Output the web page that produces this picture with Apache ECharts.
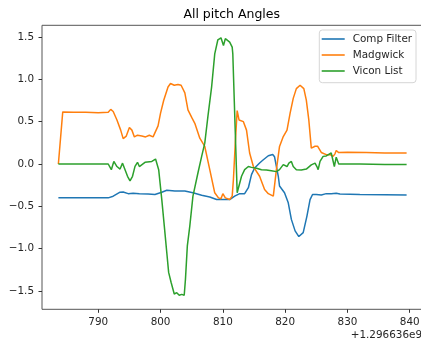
<!DOCTYPE html>
<html>
<head>
<meta charset="utf-8">
<script src="https://cdn.jsdelivr.net/npm/echarts@6/dist/echarts.min.js"></script>
<style>
  html, body { margin: 0; padding: 0; background: #fff; }
  #chart { width: 421px; height: 341px; }
</style>
</head>
<body>
<div id="chart"></div>
<script>
// Time stamps are seconds relative to the offset 1.296636e9
const xTicks = [790, 800, 810, 820, 830, 840];
const yTicks = [-1.5, -1.0, -0.5, 0.0, 0.5, 1.0, 1.5];
const xOffsetLabel = '+1.296636e9';
const seriesNames = ['Comp Filter', 'Madgwick', 'Vicon List'];

const compT = [783.6, 788, 791.6, 792.4, 793.5, 794.0, 794.8, 795.6, 796.6, 798, 799.1, 800.2, 801.0, 802.3, 803.9, 805.2, 806.6, 807.9, 809.0, 810.3, 811.1, 811.9, 812.7, 813.5, 814.1, 814.6, 815.1, 815.9, 816.5, 817.3, 818.0, 818.3, 818.9, 819.1, 819.9, 820.5, 821.0, 821.6, 822.2, 822.9, 823.5, 824.0, 824.4, 825.0, 825.8, 826.6, 827.4, 828.2, 828.8, 832, 836, 839.5];
const compV = [-0.40, -0.40, -0.40, -0.38, -0.333, -0.33, -0.35, -0.345, -0.35, -0.355, -0.36, -0.333, -0.31, -0.32, -0.32, -0.34, -0.37, -0.39, -0.42, -0.42, -0.42, -0.38, -0.35, -0.35, -0.28, -0.126, -0.047, 0.012, 0.05, 0.097, 0.113, 0.085, -0.145, -0.26, -0.34, -0.458, -0.654, -0.79, -0.857, -0.81, -0.615, -0.42, -0.36, -0.36, -0.365, -0.35, -0.35, -0.345, -0.355, -0.36, -0.362, -0.365];

const madT = [783.6, 784.3, 786, 788, 790, 791.6, 792.0, 792.4, 793.0, 793.6, 794.0, 794.5, 795.0, 795.4, 795.8, 796.3, 797.0, 797.6, 798.2, 798.8, 799.1, 799.6, 800.0, 800.5, 801.2, 801.6, 802.2, 802.8, 803.3, 803.6, 803.9, 804.4, 805.0, 805.5, 806.3, 807.1, 807.9, 808.7, 809.3, 809.7, 810.0, 810.4, 811.1, 811.5, 811.7, 812.0, 812.3, 812.6, 813.3, 813.8, 814.3, 814.9, 815.9, 816.7, 817.3, 818.1, 818.3, 818.6, 819.1, 819.7, 820.3, 820.8, 821.3, 821.8, 822.4, 823.0, 823.4, 823.8, 824.2, 824.8, 825.2, 825.8, 826.6, 827.2, 827.7, 828.0, 828.2, 828.6, 830, 833, 836, 839.5];
const madV = [0.0, 0.615, 0.61, 0.61, 0.605, 0.61, 0.645, 0.62, 0.52, 0.40, 0.30, 0.33, 0.43, 0.40, 0.32, 0.34, 0.33, 0.32, 0.34, 0.32, 0.305, 0.45, 0.60, 0.75, 0.91, 0.95, 0.93, 0.94, 0.93, 0.92, 0.84, 0.64, 0.55, 0.48, 0.305, 0.207, -0.067, -0.34, -0.40, -0.41, -0.35, -0.40, -0.42, -0.38, -0.18, 0.25, 0.63, 0.52, 0.50, 0.40, 0.13, -0.03, -0.145, -0.30, -0.35, -0.38, -0.38, -0.067, 0.207, 0.324, 0.40, 0.60, 0.775, 0.89, 0.93, 0.89, 0.755, 0.52, 0.188, 0.21, 0.21, 0.136, 0.11, 0.11, 0.09, 0.12, 0.16, 0.135, 0.14, 0.135, 0.13, 0.13];

const viconT = [783.6, 788, 791.6, 792.1, 792.5, 793.0, 793.5, 793.9, 794.3, 794.7, 795.1, 795.5, 795.9, 796.3, 796.6, 797.5, 798.6, 799.2, 799.7, 800.2, 800.6, 801.0, 801.3, 801.7, 802.2, 802.6, 803.0, 803.4, 803.8, 804.0, 804.3, 804.7, 805.2, 806.0, 806.6, 807.1, 807.6, 808.2, 808.7, 809.2, 809.7, 810.1, 810.4, 811.1, 811.5, 811.6, 812.3, 812.5, 813.0, 813.5, 814.1, 814.6, 815.4, 816.2, 817.0, 817.8, 818.6, 819.1, 819.7, 820.3, 820.6, 821.0, 821.3, 821.8, 822.6, 823.4, 824.2, 824.8, 825.1, 825.3, 825.6, 826.1, 826.6, 827.4, 827.9, 828.2, 828.6, 832, 836, 839.5];
const viconV = [0, 0, 0, -0.067, 0.03, -0.03, -0.06, 0.01, -0.067, -0.145, -0.2, -0.145, -0.028, 0.02, -0.03, 0.02, 0.03, 0.058, -0.067, -0.42, -0.73, -1.045, -1.28, -1.40, -1.535, -1.52, -1.55, -1.54, -1.55, -1.36, -0.967, -0.73, -0.38, -0.106, 0.09, 0.246, 0.56, 0.91, 1.30, 1.467, 1.49, 1.40, 1.48, 1.44, 1.38, 1.30, -0.34, -0.36, -0.145, -0.067, -0.03, -0.04, -0.05, -0.067, -0.07, -0.08, -0.09, -0.067, -0.008, -0.03, 0.01, 0.03, -0.03, -0.067, -0.07, -0.06, -0.01, 0.01, -0.03, -0.067, 0.03, 0.09, 0.095, 0.13, -0.03, 0.08, 0.0, 0.0, -0.005, -0.005];

const colors = ['#1f77b4', '#ff7f0e', '#2ca02c'];
const FONT = 'DejaVu Sans';

function pairs(t, v) { return t.map((x, i) => [x, v[i]]); }

const chart = echarts.init(document.getElementById('chart'), null, { renderer: 'canvas' });

chart.setOption({
  animation: false,
  backgroundColor: '#fff',
  color: colors,
  grid: {
    left: 42, top: 25.3, width: 380, height: 284,
    containLabel: false, outerBoundsMode: 'none',
    show: true, borderColor: '#555', borderWidth: 1, backgroundColor: 'transparent'
  },
  xAxis: {
    type: 'value', min: 780.97, max: 841.97,
    splitLine: { show: false },
    axisLine: { show: false, onZero: false },
    axisTick: { show: true, customValues: xTicks, length: 3.5, inside: false, lineStyle: { color: '#333', width: 1 } },
    axisLabel: {
      customValues: xTicks, margin: 7.5, color: '#262626',
      fontFamily: FONT, fontSize: 10.4,
      formatter: v => String(Math.round(v))
    }
  },
  yAxis: {
    type: 'value', min: -1.716, max: 1.638,
    splitLine: { show: false },
    axisLine: { show: false, onZero: false },
    axisTick: { show: true, customValues: yTicks, length: 3.5, inside: false, lineStyle: { color: '#333', width: 1 } },
    axisLabel: {
      customValues: yTicks, margin: 8, color: '#262626',
      fontFamily: FONT, fontSize: 10.4,
      formatter: v => (v < -1e-9 ? '\u2212' : '') + Math.abs(v).toFixed(1)
    }
  },
  legend: {
    orient: 'vertical', left: 321.7, top: 33, padding: 0,
    itemWidth: 23, itemHeight: 1.6, itemGap: 4, icon: 'rect',
    data: seriesNames,
    textStyle: { fontFamily: FONT, fontSize: 10.4, color: '#262626', lineHeight: 12, padding: [0, 0, 0, 3] },
    z: 10
  },
  graphic: [
    {
      type: 'rect', z: 9,
      shape: { x: 319.3, y: 30, width: 96.7, height: 52.7, r: 3 },
      style: { fill: 'rgba(255,255,255,0.8)', stroke: '#d6d6d6', lineWidth: 1 }
    },
    {
      type: 'text', z: 9,
      style: { text: 'All pitch Angles', x: 231.7, y: 14.5, textAlign: 'center', textVerticalAlign: 'middle',
               font: '12.5px "DejaVu Sans"', fill: '#000' }
    },
    {
      type: 'text', z: 9,
      style: { text: xOffsetLabel, x: 422, y: 335, textAlign: 'right', textVerticalAlign: 'middle',
               font: '10.4px "DejaVu Sans"', fill: '#262626' }
    }
  ],
  series: [
    { name: seriesNames[0], type: 'line', data: pairs(compT, compV), showSymbol: false, lineStyle: { width: 1.5 }, z: 2 },
    { name: seriesNames[1], type: 'line', data: pairs(madT, madV), showSymbol: false, lineStyle: { width: 1.5 }, z: 3 },
    { name: seriesNames[2], type: 'line', data: pairs(viconT, viconV), showSymbol: false, lineStyle: { width: 1.5 }, z: 4 }
  ]
});
</script>
</body>
</html>
